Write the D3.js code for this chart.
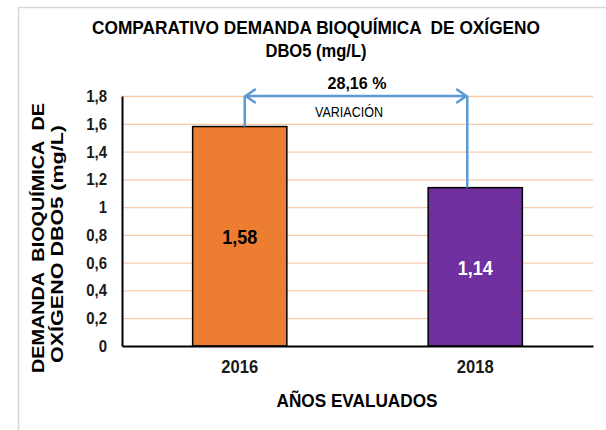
<!DOCTYPE html>
<html>
<head>
<meta charset="utf-8">
<script src="https://cdn.jsdelivr.net/npm/d3@7"></script>
<style>
  body { margin: 0; background: #fff; }
  svg text { font-family: "Liberation Sans", Arial, sans-serif; }
</style>
</head>
<body>
<div id="chart"></div>
<script>
const years = ["2016", "2018"];
const dbo5 = [1.58, 1.14];
const barColors = ["#ed7d31", "#7030a0"];
const labelColors = ["#000", "#fff"];
const yTicks = [0, 0.2, 0.4, 0.6, 0.8, 1, 1.2, 1.4, 1.6, 1.8];
const variationText = "28,16 %";

const margin = { top: 96, right: 13, bottom: 84, left: 122 };
const width = 606 - margin.left - margin.right;
const height = 430 - margin.top - margin.bottom;

const esFormat = d3.formatLocale({ decimal: ",", thousands: ".", grouping: [3], currency: ["", ""] });
const tickFmt = d => esFormat.format("~g")(d);

// squeeze text horizontally to mimic the narrow font of the original
function squeeze(sel, f) {
  sel.each(function() {
    const len = this.getComputedTextLength();
    d3.select(this).attr("textLength", len * f).attr("lengthAdjust", "spacingAndGlyphs");
  });
}

const root = d3.select("#chart")
  .append("svg")
    .attr("width", 606)
    .attr("height", 430);

// outer frame (mostly off canvas)
root.append("rect")
  .attr("x", 18.5)
  .attr("y", 7.5)
  .attr("width", 700)
  .attr("height", 600)
  .attr("fill", "none")
  .attr("stroke", "#d9d9d9")
  .attr("stroke-width", 1.5);

const svg = root.append("g")
  .attr("transform", `translate(${margin.left}, ${margin.top})`);

const x = d3.scaleBand()
  .domain(years)
  .range([0, width])
  .paddingInner(0.6)
  .paddingOuter(0.3);

const y = d3.scaleLinear()
  .domain([0, 1.8])
  .range([height, 0]);

// gridlines
svg.append("g")
  .attr("class", "grid")
  .call(d3.axisLeft(y).tickValues(yTicks.slice(1)).tickSize(-width).tickFormat(""))
  .call(g => g.select(".domain").remove())
  .selectAll("line")
  .attr("stroke", "#f8cbad")
  .attr("stroke-width", 1.3);

// bars
svg.selectAll(".bar")
  .data(dbo5)
  .enter()
  .append("rect")
    .attr("class", "bar")
    .attr("x", (d, i) => x(years[i]))
    .attr("y", d => y(d))
    .attr("width", x.bandwidth())
    .attr("height", d => height - y(d))
    .attr("fill", (d, i) => barColors[i])
    .attr("stroke", "#000")
    .attr("stroke-width", 1.5);

// value labels
svg.selectAll(".val")
  .data(dbo5)
  .enter()
  .append("text")
    .attr("class", "val")
    .attr("x", (d, i) => x(years[i]) + x.bandwidth() / 2)
    .attr("y", d => (y(d) + height) / 2 + 8)
    .attr("text-anchor", "middle")
    .style("font-size", "20px")
    .style("font-weight", "bold")
    .attr("fill", (d, i) => labelColors[i])
    .text(d => tickFmt(d))
    .call(squeeze, 0.9);

// axes
const yAxis = svg.append("g")
  .call(d3.axisLeft(y).tickValues(yTicks).tickSize(0).tickPadding(15).tickFormat(tickFmt));
yAxis.select(".domain").attr("stroke", "#000").attr("stroke-width", 2);
yAxis.selectAll("text")
  .style("font-size", "17px")
  .style("font-weight", "bold")
  .attr("fill", "#1a1a1a")
  .call(squeeze, 0.88);

const xAxis = svg.append("g")
  .attr("transform", `translate(0, ${height})`)
  .call(d3.axisBottom(x).tickSize(0).tickPadding(14));
xAxis.select(".domain").attr("stroke", "#000").attr("stroke-width", 2);
xAxis.selectAll("text")
  .style("font-size", "18px")
  .style("font-weight", "bold")
  .attr("fill", "#1a1a1a")
  .call(squeeze, 0.92);

// variation arrow
const cx0 = x(years[0]) + x.bandwidth() / 2 + 5;
const cx1 = x(years[1]) + x.bandwidth() / 2 - 8;
const arrowY = y(1.8);
const blue = "#5b9bd5";

svg.append("line")
  .attr("x1", cx0).attr("x2", cx0)
  .attr("y1", arrowY).attr("y2", y(dbo5[0]))
  .attr("stroke", blue).attr("stroke-width", 2.5);
svg.append("line")
  .attr("x1", cx1).attr("x2", cx1)
  .attr("y1", arrowY).attr("y2", y(dbo5[1]))
  .attr("stroke", blue).attr("stroke-width", 2.5);
svg.append("line")
  .attr("x1", cx0).attr("x2", cx1)
  .attr("y1", arrowY).attr("y2", arrowY)
  .attr("stroke", blue).attr("stroke-width", 2.5);
svg.append("path")
  .attr("d", `M${cx0 + 11},${arrowY - 7} L${cx0 + 1},${arrowY} L${cx0 + 11},${arrowY + 7}`)
  .attr("fill", "none").attr("stroke", blue).attr("stroke-width", 2.5);
svg.append("path")
  .attr("d", `M${cx1 - 11},${arrowY - 7} L${cx1 - 1},${arrowY} L${cx1 - 11},${arrowY + 7}`)
  .attr("fill", "none").attr("stroke", blue).attr("stroke-width", 2.5);

svg.append("text")
  .attr("x", 357 - margin.left)
  .attr("y", arrowY - 7)
  .attr("text-anchor", "middle")
  .style("font-size", "16.5px")
  .style("font-weight", "bold")
  .attr("textLength", 59)
  .attr("lengthAdjust", "spacingAndGlyphs")
  .text(variationText);

svg.append("text")
  .attr("x", 349 - margin.left)
  .attr("y", arrowY + 21)
  .attr("text-anchor", "middle")
  .style("font-size", "14.5px")
  .attr("textLength", 68)
  .attr("lengthAdjust", "spacingAndGlyphs")
  .text("VARIACIÓN");

// titles
root.append("text")
  .attr("x", 316)
  .attr("y", 34)
  .attr("text-anchor", "middle")
  .style("font-size", "18px")
  .style("font-weight", "bold")
  .style("white-space", "pre")
  .attr("textLength", 448)
  .attr("lengthAdjust", "spacingAndGlyphs")
  .text("COMPARATIVO DEMANDA BIOQUÍMICA  DE OXÍGENO");

root.append("text")
  .attr("x", 316)
  .attr("y", 57)
  .attr("text-anchor", "middle")
  .style("font-size", "18px")
  .style("font-weight", "bold")
  .attr("textLength", 101)
  .attr("lengthAdjust", "spacingAndGlyphs")
  .text("DBO5 (mg/L)");

root.append("text")
  .attr("x", 357)
  .attr("y", 407)
  .attr("text-anchor", "middle")
  .style("font-size", "18.5px")
  .style("font-weight", "bold")
  .attr("textLength", 161)
  .attr("lengthAdjust", "spacingAndGlyphs")
  .text("AÑOS EVALUADOS");

const yTitle = root.append("text")
  .attr("transform", "translate(44, 238) rotate(-90)")
  .attr("text-anchor", "middle")
  .style("font-size", "16px")
  .style("font-weight", "bold")
  .style("white-space", "pre");
yTitle.append("tspan").attr("x", 0).attr("y", 0)
  .attr("textLength", 270).attr("lengthAdjust", "spacingAndGlyphs")
  .text("DEMANDA  BIOQUÍMICA  DE");
yTitle.append("tspan").attr("x", -6).attr("y", 19)
  .attr("textLength", 238).attr("lengthAdjust", "spacingAndGlyphs")
  .text("OXÍGENO DBO5 (mg/L)");
</script>
</body>
</html>
